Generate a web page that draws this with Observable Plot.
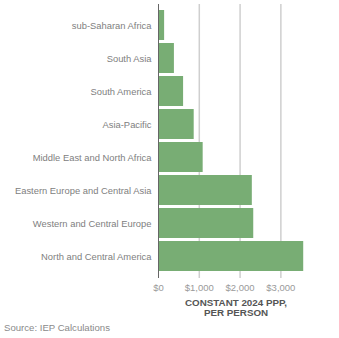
<!DOCTYPE html>
<html>
<head>
<meta charset="utf-8">
<script src="https://cdn.jsdelivr.net/npm/d3@7"></script>
<script src="https://cdn.jsdelivr.net/npm/@observablehq/plot@0.6"></script>
<style>
  html, body { margin: 0; padding: 0; background: #fff; }
  #chart svg { display: block; }
  .source { font-family: "Liberation Sans", Arial, sans-serif; font-size: 9.6px; color: #8a8a8a; margin: 0 0 0 4px; line-height: 12px; }
</style>
</head>
<body>
<div id="chart"></div>
<div class="source">Source: IEP Calculations</div>
<script>
const regions = [
  "sub-Saharan Africa",
  "South Asia",
  "South America",
  "Asia-Pacific",
  "Middle East and North Africa",
  "Eastern Europe and Central Asia",
  "Western and Central Europe",
  "North and Central America"
];
const values = [150, 390, 615, 875, 1095, 2300, 2335, 3560];
const xTicks = [0, 1000, 2000, 3000];
const gridTicks = [1000, 2000, 3000];
const axisTitle = "CONSTANT 2024 PPP,\nPER PERSON";

const data = regions.map((r, i) => ({region: r, value: values[i]}));

const chart = Plot.plot({
  width: 339,
  height: 322,
  marginLeft: 158,
  marginRight: 26,
  marginTop: 4,
  marginBottom: 44,
  style: {fontFamily: "'Liberation Sans', Arial, sans-serif", fontSize: "9.5px", background: "#fff"},
  x: {domain: [0, 3800]},
  y: {domain: regions, padding: 0.09},
  marks: [
    Plot.ruleX(gridTicks, {stroke: "#cfcfcf", strokeWidth: 1.5}),
    Plot.barX(data, {x: "value", y: "region", fill: "#78ad74"}),
    Plot.ruleX([0], {stroke: "#666", strokeWidth: 1}),
    Plot.axisY({tickSize: 0, tickPadding: 7, fill: "#808080", label: null, fontSize: 9.4}),
    Plot.axisX({ticks: xTicks, tickFormat: d => "$" + d3.format(",")(d), tickSize: 0, tickPadding: 6, fill: "#9a9a9a", label: null, fontSize: 9.5}),
    Plot.text([axisTitle], {frameAnchor: "bottom", dy: 20, lineAnchor: "top", text: d => d, fill: "#555", fontWeight: "bold", fontSize: 9.8, lineHeight: 1.02})
  ]
});
document.getElementById("chart").appendChild(chart);
</script>
</body>
</html>
